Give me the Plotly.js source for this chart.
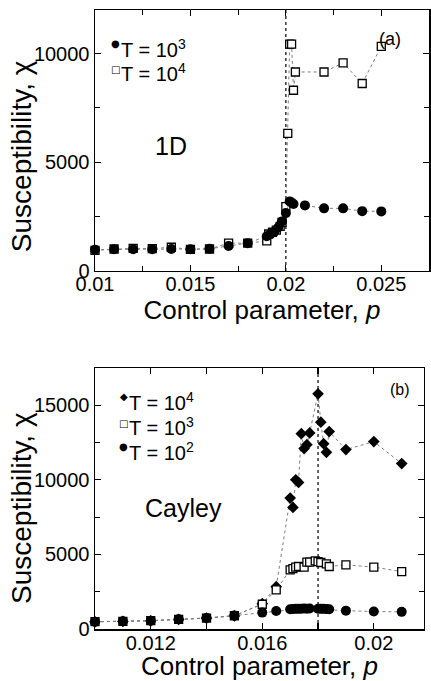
<!DOCTYPE html>
<html>
<head>
<meta charset="utf-8">
<script src="https://cdn.plot.ly/plotly-3.0.1.min.js"></script>
<style>html,body{margin:0;padding:0;background:#fff;}#chart{width:431px;height:681px;}</style>
</head>
<body>
<div id="chart"></div>
<script>
// ---------- Panel (a): 1D ----------
const pA_T3 = [0.010,0.011,0.012,0.013,0.014,0.015,0.016,0.017,0.018,0.019,0.0192,0.0194,0.0196,0.0198,0.0200,0.0202,0.0203,0.0204,0.021,0.022,0.023,0.024,0.025];
const chiA_T3 = [980,1000,1000,1000,1010,1000,1020,1150,1280,1600,1700,1800,2000,2280,2660,3200,3150,3080,3015,2880,2880,2750,2740];
const pA_T4 = [0.010,0.011,0.012,0.013,0.014,0.015,0.016,0.017,0.018,0.019,0.0191,0.0193,0.0195,0.0197,0.0198,0.0200,0.0201,0.0202,0.0203,0.0204,0.0205,0.022,0.023,0.024,0.025];
const chiA_T4 = [950,1010,1040,1030,1090,990,1010,1280,1280,1380,1700,1780,1880,2050,2230,2960,6330,10430,10430,8310,9150,9150,9570,8620,10330];
const pcA = 0.02;
const xTickValsA = [0.01,0.015,0.02,0.025];
const xTickTextA = ["0.01","0.015","0.02","0.025"];
const yTickValsA = [0,5000,10000];
const yTickTextA = ["0","5000","10000"];

// ---------- Panel (b): Cayley ----------
const pB_T4 = [0.010,0.011,0.012,0.013,0.014,0.015,0.016,0.0165,0.0170,0.0171,0.0172,0.0173,0.0174,0.0175,0.0176,0.0177,0.0180,0.0181,0.0182,0.0183,0.0184,0.019,0.020,0.021];
const chiB_T4 = [480,510,550,640,730,880,1700,2840,8780,8150,10010,9830,13100,12100,12360,13150,15770,13870,12430,11850,13240,12030,12570,11090];
const pB_T3 = [0.010,0.011,0.012,0.013,0.014,0.015,0.016,0.0165,0.0170,0.0171,0.0172,0.0173,0.0175,0.0176,0.0177,0.0179,0.0180,0.0181,0.0183,0.0184,0.019,0.020,0.021];
const chiB_T3 = [490,515,555,645,735,890,1660,2620,3965,4050,4150,4190,4150,4480,4480,4570,4520,4460,4370,4190,4300,4150,3850];
const pB_T2 = [0.010,0.011,0.012,0.013,0.014,0.015,0.016,0.0165,0.0170,0.0171,0.0172,0.0173,0.0174,0.0175,0.0176,0.0177,0.0180,0.0181,0.0182,0.0183,0.0184,0.019,0.020,0.021];
const chiB_T2 = [490,520,560,650,740,900,1100,1210,1330,1340,1350,1350,1360,1370,1360,1380,1360,1350,1350,1340,1330,1230,1170,1150];
const pcB = 0.018;
const xTickValsB = [0.010,0.012,0.014,0.016,0.018,0.020];
const xTickTextB = ["","0.012","","0.016","","0.02"];
const yTickValsB = [0,5000,10000,15000];
const yTickTextB = ["0","5000","10000","15000"];

const FONT = "Liberation Sans, Arial, Helvetica, sans-serif";
const lineStyle = {color:'#808080', width:1, dash:'dot'};

function tr(x, y, xa, ya, symbol, size, open) {
  return {
    x: x, y: y, xaxis: xa, yaxis: ya, type: 'scatter', mode: 'lines+markers',
    line: lineStyle, cliponaxis: false, showlegend: false,
    marker: open ? {symbol: symbol, size: size, color: '#fff', line: {color: '#000', width: 1.3}}
                 : {symbol: symbol, size: size, color: '#000', line: {color: '#000', width: 0}}
  };
}

const data = [
  tr(pA_T4, chiA_T4, 'x', 'y', 'square', 8, true),
  tr(pA_T3, chiA_T3, 'x', 'y', 'circle', 10, false),
  tr(pB_T4, chiB_T4, 'x2', 'y2', 'diamond', 9, false),
  tr(pB_T3, chiB_T3, 'x2', 'y2', 'square', 8, true),
  tr(pB_T2, chiB_T2, 'x2', 'y2', 'circle', 10, false)
];

const axBase = {
  showline: true, linecolor: '#000', linewidth: 1.5, mirror: 'ticks',
  ticks: 'inside', ticklen: 6, tickwidth: 1.2, tickcolor: '#000',
  showgrid: false, zeroline: false, tickmode: 'array',
  tickfont: {family: FONT, size: 20, color: '#000'}
};
const xTitle = {text: 'Control parameter, <i>p</i>', font: {family: FONT, size: 26, color: '#000'}, standoff: 2};
const yTitleText = 'Susceptibility, χ';
const yTitleFont = {family: FONT, size: 28, color: '#000'};

const layout = {
  width: 431, height: 681,
  margin: {l: 95, r: 2, t: 10, b: 52},
  paper_bgcolor: '#fff', plot_bgcolor: '#fff',
  font: {family: FONT, color: '#000'},
  xaxis: Object.assign({}, axBase, {
    domain: [0, 1], anchor: 'y', range: [0.01, 0.0275],
    tickvals: xTickValsA, ticktext: xTickTextA, title: xTitle, ticklabelstandoff: -5,
    minor: {tickmode: 'linear', tick0: 0.01, dtick: 0.0025, ticks: 'inside', ticklen: 5, tickcolor: '#000'}
  }),
  yaxis: Object.assign({}, axBase, {
    domain: [0.5784, 1], anchor: 'x', range: [0, 12000],
    tickvals: yTickValsA, ticktext: yTickTextA,
    minor: {tickmode: 'linear', tick0: 0, dtick: 2500, ticks: 'inside', ticklen: 5, tickcolor: '#000'}
  }),
  xaxis2: Object.assign({}, axBase, {
    domain: [0, 0.985], anchor: 'y2', range: [0.01, 0.0218],
    tickvals: xTickValsB, ticktext: xTickTextB, title: xTitle, ticklabelstandoff: -5
  }),
  yaxis2: Object.assign({}, axBase, {
    domain: [0, 0.4216], anchor: 'x2', range: [0, 17500],
    tickvals: yTickValsB, ticktext: yTickTextB,
    minor: {tickmode: 'linear', tick0: 0, dtick: 2500, ticks: 'inside', ticklen: 5, tickcolor: '#000'}
  }),
  shapes: [
    {type: 'line', xref: 'x', yref: 'y domain', x0: pcA, x1: pcA, y0: 0, y1: 1, line: {color: '#000', width: 1.2, dash: 'dot'}, layer: 'below'},
    {type: 'line', xref: 'x2', yref: 'y2 domain', x0: pcB, x1: pcB, y0: 0, y1: 1, line: {color: '#000', width: 1.2, dash: 'dot'}, layer: 'below'}
  ],
  annotations: [
    // y-axis titles
    {xref: 'paper', yref: 'y domain', x: -0.2216, y: 0.44, xanchor: 'center', yanchor: 'middle', textangle: -90, showarrow: false,
     text: yTitleText, font: yTitleFont},
    {xref: 'paper', yref: 'y2 domain', x: -0.2216, y: 0.4636, xanchor: 'center', yanchor: 'middle', textangle: -90, showarrow: false,
     text: yTitleText, font: yTitleFont},
    // legend glyphs
    {xref: 'x domain', yref: 'y domain', x: 0.081, y: 0.854, xanchor: 'right', yanchor: 'middle', yshift: 5, showarrow: false, text: '●', font: {family: 'DejaVu Sans', size: 10}},
    {xref: 'x domain', yref: 'y domain', x: 0.081, y: 0.759, xanchor: 'right', yanchor: 'middle', yshift: 3, showarrow: false, text: '□', font: {family: 'DejaVu Sans', size: 10}},
    {xref: 'x2 domain', yref: 'y2 domain', x: 0.106, y: 0.8736, xanchor: 'right', yanchor: 'middle', yshift: 5, showarrow: false, text: '◆', font: {family: 'DejaVu Sans', size: 10}},
    {xref: 'x2 domain', yref: 'y2 domain', x: 0.106, y: 0.7778, xanchor: 'right', yanchor: 'middle', yshift: 3, showarrow: false, text: '□', font: {family: 'DejaVu Sans', size: 10}},
    {xref: 'x2 domain', yref: 'y2 domain', x: 0.106, y: 0.682, xanchor: 'right', yanchor: 'middle', yshift: 5, showarrow: false, text: '●', font: {family: 'DejaVu Sans', size: 10}},
    // legend texts
    {xref: 'x domain', yref: 'y domain', x: 0.072, y: 0.854, xanchor: 'left', yanchor: 'middle', showarrow: false,
     text: 'T = 10<sup>3</sup>', font: {family: FONT, size: 20}},
    {xref: 'x domain', yref: 'y domain', x: 0.072, y: 0.759, xanchor: 'left', yanchor: 'middle', showarrow: false,
     text: 'T = 10<sup>4</sup>', font: {family: FONT, size: 20}},
    {xref: 'x2 domain', yref: 'y2 domain', x: 0.097, y: 0.8736, xanchor: 'left', yanchor: 'middle', showarrow: false,
     text: 'T = 10<sup>4</sup>', font: {family: FONT, size: 20}},
    {xref: 'x2 domain', yref: 'y2 domain', x: 0.097, y: 0.7778, xanchor: 'left', yanchor: 'middle', showarrow: false,
     text: 'T = 10<sup>3</sup>', font: {family: FONT, size: 20}},
    {xref: 'x2 domain', yref: 'y2 domain', x: 0.097, y: 0.682, xanchor: 'left', yanchor: 'middle', showarrow: false,
     text: 'T = 10<sup>2</sup>', font: {family: FONT, size: 20}},
    // panel labels
    {xref: 'x domain', yref: 'y domain', x: 0.2275, y: 0.479, xanchor: 'center', yanchor: 'middle', showarrow: false,
     text: '1D', font: {family: FONT, size: 25}},
    {xref: 'x domain', yref: 'y domain', x: 0.883, y: 0.889, xanchor: 'center', yanchor: 'middle', showarrow: false,
     text: '(a)', font: {family: FONT, size: 18}},
    {xref: 'x2 domain', yref: 'y2 domain', x: 0.27, y: 0.4636, xanchor: 'center', yanchor: 'middle', showarrow: false,
     text: 'Cayley', font: {family: FONT, size: 25}},
    {xref: 'x2 domain', yref: 'y2 domain', x: 0.927, y: 0.916, xanchor: 'center', yanchor: 'middle', showarrow: false,
     text: '(b)', font: {family: FONT, size: 16}}
  ]
};

Plotly.newPlot('chart', data, layout, {staticPlot: true, displayModeBar: false});
</script>
</body>
</html>
